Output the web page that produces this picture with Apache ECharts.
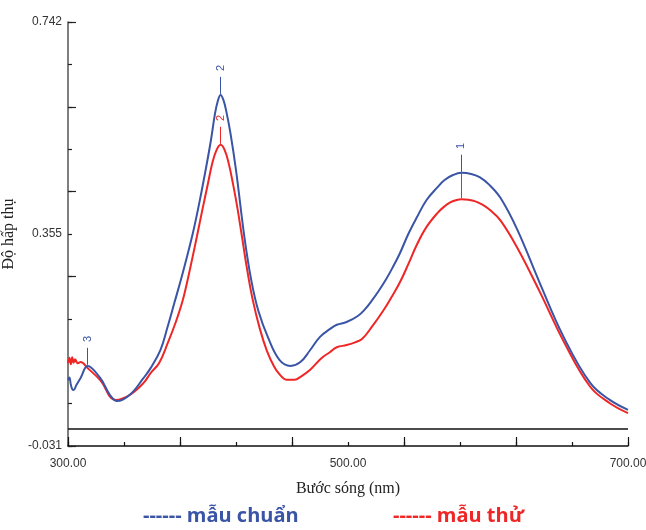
<!DOCTYPE html>
<html>
<head>
<meta charset="utf-8">
<script src="https://cdn.jsdelivr.net/npm/echarts@6/dist/echarts.min.js"></script>
<style>
html,body{margin:0;padding:0;background:#fff;}
#c{width:646px;height:530px;}
</style>
</head>
<body>
<div id="c"></div>
<script>
// ---- data ----
const xTickLabels = ['300.00', '500.00', '700.00'];
const xTickValues = [300, 500, 700];
const yTickLabels = ['-0.031', '0.355', '0.742'];
const yTickValues = [-0.031, 0.355, 0.742];

// mẫu chuẩn (blue)
const blueNm  = [300, 301, 302, 303, 304, 306, 309, 314, 323, 330, 335, 344, 354, 359, 366, 371, 376, 382, 389, 394, 398, 402, 405, 407, 409, 411, 413, 416, 420, 426, 431, 436, 443, 451, 459, 466, 473, 480, 487, 492, 499, 507, 512, 517, 522, 527, 532, 537, 543, 549, 556, 564, 569, 575, 581, 588, 594, 601, 609, 621, 637, 654, 673, 687, 700];
const blueAbs = [0.089, 0.094, 0.081, 0.073, 0.071, 0.080, 0.093, 0.115, 0.093, 0.062, 0.051, 0.062, 0.093, 0.111, 0.144, 0.185, 0.230, 0.285, 0.355, 0.415, 0.468, 0.525, 0.575, 0.598, 0.609, 0.600, 0.580, 0.540, 0.472, 0.350, 0.270, 0.215, 0.166, 0.126, 0.115, 0.122, 0.144, 0.168, 0.182, 0.190, 0.195, 0.206, 0.218, 0.234, 0.252, 0.272, 0.295, 0.320, 0.355, 0.385, 0.417, 0.441, 0.454, 0.463, 0.467, 0.465, 0.459, 0.445, 0.421, 0.363, 0.266, 0.168, 0.084, 0.053, 0.035];

// mẫu thử (red)
const redNm  = [300, 301, 302, 303, 304, 305, 307, 309, 314, 323, 334, 344, 354, 359, 365, 371, 377, 382, 387, 392, 396, 400, 403, 406, 409, 412, 415, 418, 421, 424, 428, 432, 437, 442, 447, 451, 456, 462, 466, 473, 481, 487, 492, 499, 505, 510, 517, 525, 531, 537, 543, 549, 556, 564, 569, 573, 577, 581, 586, 591, 596, 601, 609, 621, 637, 654, 673, 687, 700];
const redAbs = [0.120, 0.130, 0.118, 0.131, 0.121, 0.127, 0.120, 0.122, 0.111, 0.089, 0.053, 0.062, 0.084, 0.102, 0.120, 0.155, 0.195, 0.235, 0.290, 0.350, 0.400, 0.448, 0.484, 0.508, 0.518, 0.508, 0.482, 0.445, 0.403, 0.355, 0.290, 0.235, 0.183, 0.143, 0.115, 0.100, 0.090, 0.090, 0.095, 0.108, 0.129, 0.140, 0.149, 0.153, 0.158, 0.164, 0.186, 0.215, 0.240, 0.267, 0.300, 0.335, 0.368, 0.394, 0.406, 0.413, 0.417, 0.419, 0.418, 0.415, 0.409, 0.400, 0.380, 0.330, 0.250, 0.160, 0.077, 0.047, 0.029];

// peak picks
const bluePeakLabels = ['1', '2', '3'];
const bluePeakNm     = [581, 409, 314];
const bluePeakAbs    = [0.467, 0.609, 0.115];
const redPeakLabels  = ['', '2'];
const redPeakNm      = [581, 409];
const redPeakAbs     = [0.419, 0.518];
const redPeakArrowTop = [0.470, 0.551];

const BLUE = '#3a54a6';
const RED = '#ef2626';

function zip(a, b) { return a.map((v, i) => [v, b[i]]); }

function arrows(nms, abs, tops, len) {
  return nms.map((n, i) => [
    { coord: [n, tops ? tops[i] : abs[i] + len] },
    { coord: [n, abs[i] + 0.002] }
  ]);
}
function labels(nms, abs, labs, color) {
  return nms.map((n, i) => ({
    coord: [n, abs[i]],
    symbol: 'circle', symbolSize: 0,
    label: {
      show: labs[i] !== '', formatter: labs[i], color: color,
      fontSize: 11, fontFamily: 'Liberation Sans',
      position: 'inside', offset: [27, 0], rotate: 90
    }
  }));
}

const chart = echarts.init(document.getElementById('c'), null, { renderer: 'canvas' });

const yFmt = function (v) {
  for (let i = 0; i < yTickValues.length; i++) {
    if (Math.abs(v - yTickValues[i]) < 0.01) return yTickLabels[i];
  }
  return '';
};
const xFmt = function (v) {
  for (let i = 0; i < xTickValues.length; i++) {
    if (Math.abs(v - xTickValues[i]) < 0.5) return xTickLabels[i];
  }
  return '';
};

chart.setOption({
  animation: false,
  backgroundColor: '#fff',
  grid: { left: 68, right: 18, top: 22, bottom: 84, containLabel: false, outerBoundsMode: 'none' },
  xAxis: [
    {
      type: 'value', min: 300, max: 700, interval: 40,
      axisLine: { show: true, onZero: false, lineStyle: { color: '#111', width: 1.5 } },
      axisTick: { show: true, inside: true, length: 4, lineStyle: { color: '#111', width: 1.2 } },
      axisLabel: { formatter: xFmt, color: '#333', fontSize: 12, fontFamily: 'Liberation Sans', margin: 12, showMinLabel: true, showMaxLabel: true },
      splitLine: { show: false },
      name: 'Bước sóng (nm)', nameLocation: 'middle', nameGap: 35,
      nameTextStyle: { fontFamily: 'Liberation Serif', fontSize: 16, color: '#222' }
    },
    {
      type: 'value', min: 300, max: 700, interval: 80, position: 'bottom', offset: 0,
      axisLine: { show: false, onZero: false },
      axisTick: { show: true, inside: true, length: 9, lineStyle: { color: '#111', width: 1.2 } },
      axisLabel: { show: false },
      splitLine: { show: false }
    }
  ],
  yAxis: [
    {
      type: 'value', min: -0.031, max: 0.742, interval: 0.0773,
      axisLine: { show: true, onZero: false, lineStyle: { color: '#555', width: 1.5 } },
      axisTick: { show: true, inside: true, length: 4, lineStyle: { color: '#222', width: 1.2 } },
      axisLabel: { formatter: yFmt, color: '#333', fontSize: 12, fontFamily: 'Liberation Sans', margin: 6, showMinLabel: true, showMaxLabel: true },
      splitLine: { show: false },
      name: 'Độ hấp thụ', nameLocation: 'middle', nameGap: 42, nameRotate: 90,
      nameTextStyle: { fontFamily: 'Liberation Serif', fontSize: 16, color: '#222' }
    },
    {
      type: 'value', min: -0.031, max: 0.742, interval: 0.1546, position: 'left', offset: 0,
      axisLine: { show: false, onZero: false },
      axisTick: { show: true, inside: true, length: 8, lineStyle: { color: '#222', width: 1.2 } },
      axisLabel: { show: false },
      splitLine: { show: false }
    }
  ],
  series: [
    {
      name: 'mẫu thử', type: 'line', data: zip(redNm, redAbs),
      smooth: 0.4, showSymbol: false, symbol: 'none',
      lineStyle: { color: RED, width: 2 }, itemStyle: { color: RED },
      markLine: {
        silent: true, animation: false,
        symbol: ['none', 'none'],
        lineStyle: { color: '#111', width: 1.5, type: 'solid' },
        label: { show: false },
        data: [{ yAxis: 0 }]
      },
      z: 2
    },
    {
      name: 'red-arrows', type: 'line', data: [],
      markLine: {
        silent: true, animation: false,
        symbol: ['none', 'arrow'], symbolSize: [0, 7],
        lineStyle: { color: RED, width: 1, type: 'solid' },
        label: { show: false },
        data: arrows(redPeakNm, redPeakAbs, redPeakArrowTop, 0)
      },
      markPoint: { silent: true, animation: false, data: labels(redPeakNm, redPeakAbs, redPeakLabels, RED) },
      z: 3
    },
    {
      name: 'mẫu chuẩn', type: 'line', data: zip(blueNm, blueAbs),
      smooth: 0.4, showSymbol: false, symbol: 'none',
      lineStyle: { color: BLUE, width: 2 }, itemStyle: { color: BLUE },
      markLine: {
        silent: true, animation: false,
        symbol: ['none', 'arrow'], symbolSize: [0, 7],
        lineStyle: { color: BLUE, width: 1, type: 'solid' },
        label: { show: false },
        data: arrows(bluePeakNm, bluePeakAbs, null, 0.033)
      },
      markPoint: { silent: true, animation: false, data: labels(bluePeakNm, bluePeakAbs, bluePeakLabels, BLUE) },
      z: 4
    }
  ],
  graphic: [
    {
      type: 'text', left: 143, top: 506,
      style: { text: '------ mẫu chuẩn', fill: BLUE, font: 'bold 20px "Open Sans"' }
    },
    {
      type: 'text', left: 393, top: 506,
      style: { text: '------ mẫu thử', fill: RED, font: 'bold 20px "Open Sans"' }
    }
  ]
});
</script>
</body>
</html>
